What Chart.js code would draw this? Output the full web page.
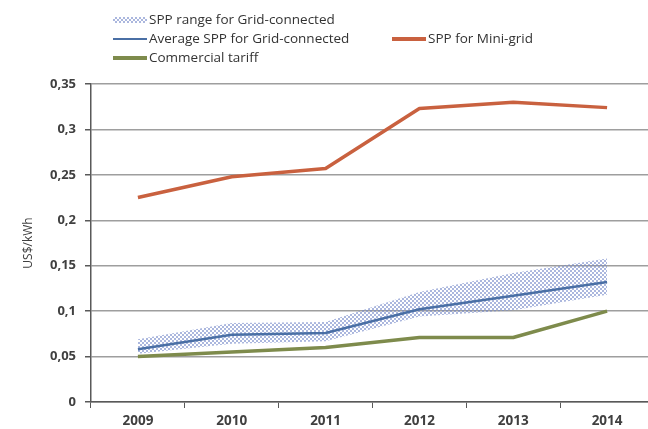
<!DOCTYPE html>
<html>
<head>
<meta charset="utf-8">
<script src="https://cdn.jsdelivr.net/npm/chart.js@4"></script>
<style>
  html, body { margin: 0; padding: 0; background: #fff; overflow: hidden; }
  #wrap { position: relative; width: 660px; height: 429px; }
  #legend { position: absolute; left: 0; top: 0; font-family: 'Open Sans', sans-serif; font-size: 13.5px; color: #333; }
  .item { position: absolute; white-space: nowrap; line-height: 16px; }
  .sw { position: absolute; width: 34px; }
</style>
</head>
<body>
<div id="wrap">
  <canvas id="chart" width="660" height="429"></canvas>
  <div id="legend"></div>
</div>
<script>
// chart values
const YEARS = ['2009', '2010', '2011', '2012', '2013', '2014'];
const MINI_GRID = [0.225, 0.248, 0.257, 0.323, 0.330, 0.324];
const AVG_GRID = [0.058, 0.074, 0.076, 0.102, 0.117, 0.132];
const TARIFF = [0.050, 0.055, 0.060, 0.071, 0.071, 0.100];
const RANGE_HIGH = [0.069, 0.087, 0.088, 0.121, 0.142, 0.158];
const RANGE_LOW = [0.053, 0.064, 0.067, 0.094, 0.101, 0.118];

const COLORS = {
  mini: '#C9613F',
  avg: '#4A6FA5',
  tariff: '#7E8B4C',
  grid: '#9e9e9e',
  axis: '#595959',
  text: '#404040',
};

// checkered fill for the range band
function makePattern() {
  const c = document.createElement('canvas');
  c.width = 4; c.height = 4;
  const g = c.getContext('2d');
  g.fillStyle = 'rgba(115,135,200,0.6)';
  g.fillRect(0, 0, 2, 2);
  g.fillRect(2, 2, 2, 2);
  return g.createPattern(c, 'repeat');
}
const bandPattern = makePattern();

// legend, laid out like the original (three rows)
const legendItems = [
  { label: 'SPP range for Grid-connected', x: 113, y: 20, kind: 'band' },
  { label: 'Average SPP for Grid-connected', x: 113, y: 39, kind: 'line', color: COLORS.avg, w: 2.5 },
  { label: 'SPP for Mini-grid', x: 392, y: 39, kind: 'line', color: COLORS.mini, w: 3.5 },
  { label: 'Commercial tariff', x: 113, y: 58, kind: 'line', color: COLORS.tariff, w: 3.5 },
];
const legendEl = document.getElementById('legend');
legendItems.forEach(it => {
  const sw = document.createElement('div');
  sw.className = 'sw';
  if (it.kind === 'band') {
    sw.style.left = it.x + 'px';
    sw.style.top = (it.y - 3) + 'px';
    sw.style.height = '6px';
    sw.style.background = 'repeating-conic-gradient(rgba(115,135,200,0.6) 0 25%, transparent 0 50%) 0 0 / 4px 4px';
  } else {
    sw.style.left = it.x + 'px';
    sw.style.top = (it.y - it.w / 2) + 'px';
    sw.style.height = it.w + 'px';
    sw.style.background = it.color;
  }
  legendEl.appendChild(sw);
  const t = document.createElement('div');
  t.className = 'item';
  t.textContent = it.label;
  t.style.left = (it.x + 36) + 'px';
  t.style.top = (it.y - 9) + 'px';
  legendEl.appendChild(t);
});

new Chart(document.getElementById('chart'), {
  type: 'line',
  data: {
    labels: YEARS,
    datasets: [
      { label: 'Commercial tariff', data: TARIFF, borderColor: COLORS.tariff, borderWidth: 3.5, pointRadius: 0, fill: false },
      { label: 'SPP for Mini-grid', data: MINI_GRID, borderColor: COLORS.mini, borderWidth: 3.5, pointRadius: 0, fill: false },
      { label: 'Average SPP for Grid-connected', data: AVG_GRID, borderColor: COLORS.avg, borderWidth: 2.5, pointRadius: 0, fill: false },
      { label: 'range high', data: RANGE_HIGH, borderWidth: 0, borderColor: 'rgba(0,0,0,0)', pointRadius: 0, backgroundColor: bandPattern, fill: '+1' },
      { label: 'range low', data: RANGE_LOW, borderWidth: 0, borderColor: 'rgba(0,0,0,0)', pointRadius: 0, fill: false },
    ],
  },
  options: {
    responsive: false,
    animation: false,
    layout: { padding: { top: 84, right: 6, left: 0, bottom: 0 } },
    elements: { line: { tension: 0, borderJoinStyle: 'round', borderCapStyle: 'butt' } },
    plugins: { legend: { display: false }, tooltip: { enabled: false } },
    scales: {
      x: {
        offset: true,
        grid: { offset: true, drawOnChartArea: false, color: COLORS.axis, tickLength: 6, lineWidth: 1 },
        border: { color: COLORS.axis, width: 1.5 },
        ticks: { color: COLORS.text, padding: 5, font: { family: 'Open Sans', size: 13.5, weight: 'bold' } },
        afterFit: s => { s.height = 27; },
      },
      y: {
        min: 0,
        max: 0.35,
        grid: { color: COLORS.grid, lineWidth: 1.5, tickLength: 6, tickColor: COLORS.axis },
        border: { color: COLORS.axis, width: 1.5 },
        ticks: {
          stepSize: 0.05,
          padding: 9,
          color: COLORS.text,
          font: { family: 'Open Sans', size: 13, weight: 'bold' },
          callback: v => String(Math.round(v * 100) / 100).replace('.', ','),
        },
        title: { display: true, text: 'US$/kWh', color: COLORS.text, padding: { top: 21, bottom: 0 }, font: { family: 'Open Sans', size: 12 } },
        afterFit: s => { s.width = 91; },
      },
    },
  },
});
</script>
</body>
</html>
